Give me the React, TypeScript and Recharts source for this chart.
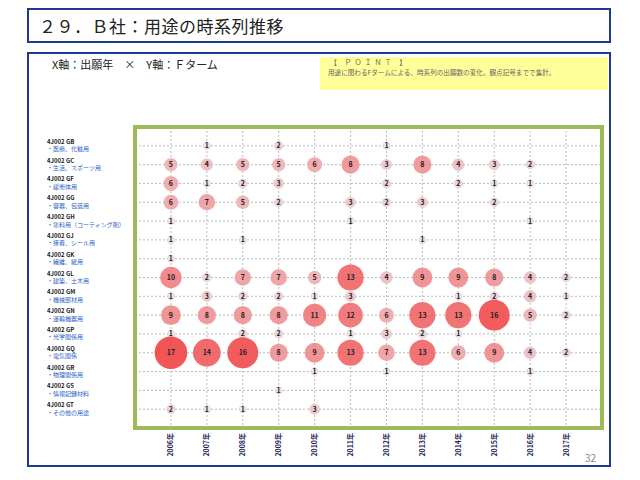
import React from "react";
import {
  ScatterChart,
  Scatter,
  XAxis,
  YAxis,
  CartesianGrid,
  ReferenceArea,
} from "recharts";

const years = [2006, 2007, 2008, 2009, 2010, 2011, 2012, 2013, 2014, 2015, 2016, 2017];

const codes = ["GB", "GC", "GF", "GG", "GH", "GJ", "GK", "GL", "GM", "GN", "GP", "GQ", "GR", "GS", "GT"];
const names = [
  "・医療、化粧用",
  "・生活、スポーツ用",
  "・緩衝体用",
  "・容器、包装用",
  "・塗料用（コーティング剤）",
  "・接着、シール用",
  "・繊維、紙用",
  "・建築、土木用",
  "・機械部材用",
  "・運輸機器用",
  "・光学関係用",
  "・電気関係",
  "・物理関係用",
  "・情報記録材料",
  "・その他の用途",
];

// counts per year, 2006..2017 (0 = none)
const gb = [0, 1, 0, 2, 0, 0, 1, 0, 0, 0, 0, 0];
const gc = [5, 4, 5, 5, 6, 8, 3, 8, 4, 3, 2, 0];
const gf = [6, 1, 2, 3, 0, 0, 2, 0, 2, 1, 1, 0];
const gg = [6, 7, 5, 2, 0, 3, 2, 3, 0, 2, 0, 0];
const gh = [1, 0, 0, 0, 0, 1, 0, 0, 0, 0, 1, 0];
const gj = [1, 0, 1, 0, 0, 0, 0, 1, 0, 0, 0, 0];
const gk = [1, 0, 0, 0, 0, 0, 0, 0, 0, 0, 0, 0];
const gl = [10, 2, 7, 7, 5, 13, 4, 9, 9, 8, 4, 2];
const gm = [1, 3, 2, 2, 1, 3, 0, 0, 1, 2, 4, 1];
const gn = [9, 8, 8, 8, 11, 12, 6, 13, 13, 16, 5, 2];
const gp = [1, 0, 2, 2, 0, 1, 3, 2, 1, 0, 0, 0];
const gq = [17, 14, 16, 8, 9, 13, 7, 13, 6, 9, 4, 2];
const gr = [0, 0, 0, 0, 1, 0, 1, 0, 0, 0, 1, 0];
const gs = [0, 0, 0, 1, 0, 0, 0, 0, 0, 0, 0, 0];
const gt = [2, 1, 1, 0, 3, 0, 0, 0, 0, 0, 0, 0];

const rows = [gb, gc, gf, gg, gh, gj, gk, gl, gm, gn, gp, gq, gr, gs, gt];

const points = rows.flatMap((row, i) =>
  row
    .map((v, j) => ({ x: years[j], y: rows.length - i, count: v }))
    .filter((p) => p.count > 0)
);

const yTicks = codes.map((_, i) => rows.length - i);

const font = "'Noto Sans CJK JP', 'Noto Sans', sans-serif";

const mix = (a: number, b: number, t: number) => Math.round(a + (b - a) * t);
const bubbleColor = (v: number) => {
  const t = Math.pow(Math.min(1, (v - 1) / 16), 0.8);
  return `rgb(${mix(236, 240, t)},${mix(228, 62, t)},${mix(234, 62, t)})`;
};

const Bubble = (props: any) => {
  const { cx, cy, payload } = props;
  const v = payload.count;
  const r = (5.4 + 1.6 * v) / 2;
  return (
    <g>
      <circle
        cx={cx}
        cy={cy}
        r={r}
        fill={bubbleColor(v)}
        fillOpacity={0.88}
        stroke={v < 5 ? "#e6cbd0" : "none"}
        strokeWidth={0.8}
      />
      <text
        x={cx}
        y={cy}
        dy={2.5}
        textAnchor="middle"
        fontSize={7}
        fontWeight="bold"
        fontFamily={font}
        fill="#222"
      >
        {v}
      </text>
    </g>
  );
};

const YTick = (props: any) => {
  const { x, y, payload } = props;
  const i = rows.length - payload.value;
  return (
    <g>
      <text x={x - 88} y={y - 2} fontSize={6} fontWeight="bold" fontFamily={font} fill="#222">
        {"4J002 " + codes[i]}
      </text>
      <text x={x - 88} y={y + 5.5} fontSize={6} fontFamily={font} fill="#2a62c8">
        {names[i]}
      </text>
    </g>
  );
};

const XTick = (props: any) => {
  const { x, y, payload } = props;
  return (
    <text
      x={x}
      y={y + 5}
      dy={2.5}
      transform={`rotate(-90, ${x}, ${y + 5})`}
      textAnchor="end"
      fontSize={7}
      fontWeight="bold"
      fontFamily={font}
      fill="#1c1c5e"
    >
      {payload.value + "年"}
    </text>
  );
};

const box: React.CSSProperties = {
  position: "absolute",
  left: 27,
  width: 584,
  border: "2px solid #1c3a94",
  boxSizing: "border-box",
};

export default function App() {
  return (
    <div style={{ position: "absolute", left: 0, top: 0, width: 640, height: 480, background: "#fff", fontFamily: font }}>
      <div style={{ ...box, top: 8, height: 35 }}>
        <div style={{ position: "absolute", left: 10, top: 3, fontSize: 17, color: "#222", letterSpacing: 0.5 }}>
          ２９．Ｂ社：用途の時系列推移
        </div>
      </div>
      <div style={{ ...box, top: 52, height: 415 }} />
      <div style={{ position: "absolute", left: 52, top: 56, fontSize: 11, color: "#222", whiteSpace: "pre" }}>
        {"X軸：出願年　×　Y軸：Ｆターム"}
      </div>
      <div style={{ position: "absolute", left: 320, top: 57, width: 288, height: 33, background: "#ffff99" }}>
        <div style={{ position: "absolute", left: 10, top: 1, fontSize: 7, lineHeight: "8px", color: "#666", letterSpacing: 3, whiteSpace: "nowrap" }}>
          【 ＰＯＩＮＴ 】
        </div>
        <div style={{ position: "absolute", left: 8, top: 11.5, fontSize: 6.6, lineHeight: "7.5px", color: "#666", whiteSpace: "nowrap" }}>
          用途に関わるFタームによる、時系列の出願数の変化。観点記号までで集計。
        </div>
      </div>
      <div style={{ position: "absolute", left: 585, top: 450, fontSize: 10, color: "#888" }}>32</div>
      <div style={{ position: "absolute", left: 0, top: 0 }}>
        <ScatterChart width={640} height={480} margin={{ top: 127, right: 38, bottom: 0, left: 35 }}>
          <CartesianGrid strokeDasharray="2 2" stroke="#aaa" strokeWidth={0.8} />
          <XAxis
            type="number"
            dataKey="x"
            domain={[2005, 2018]}
            ticks={years}
            interval={0}
            height={52}
            tickSize={0}
            tickMargin={0}
            axisLine={false}
            tick={<XTick />}
          />
          <YAxis
            type="number"
            dataKey="y"
            domain={[0, 16]}
            ticks={yTicks}
            interval={0}
            width={100}
            tickSize={0}
            tickMargin={0}
            axisLine={false}
            tick={<YTick />}
          />
          <ReferenceArea x1={2005} x2={2018} y1={0} y2={16} fill="none" stroke="#9bbb59" strokeWidth={4} />
          <Scatter data={points} shape={<Bubble />} isAnimationActive={false} />
        </ScatterChart>
      </div>
    </div>
  );
}
